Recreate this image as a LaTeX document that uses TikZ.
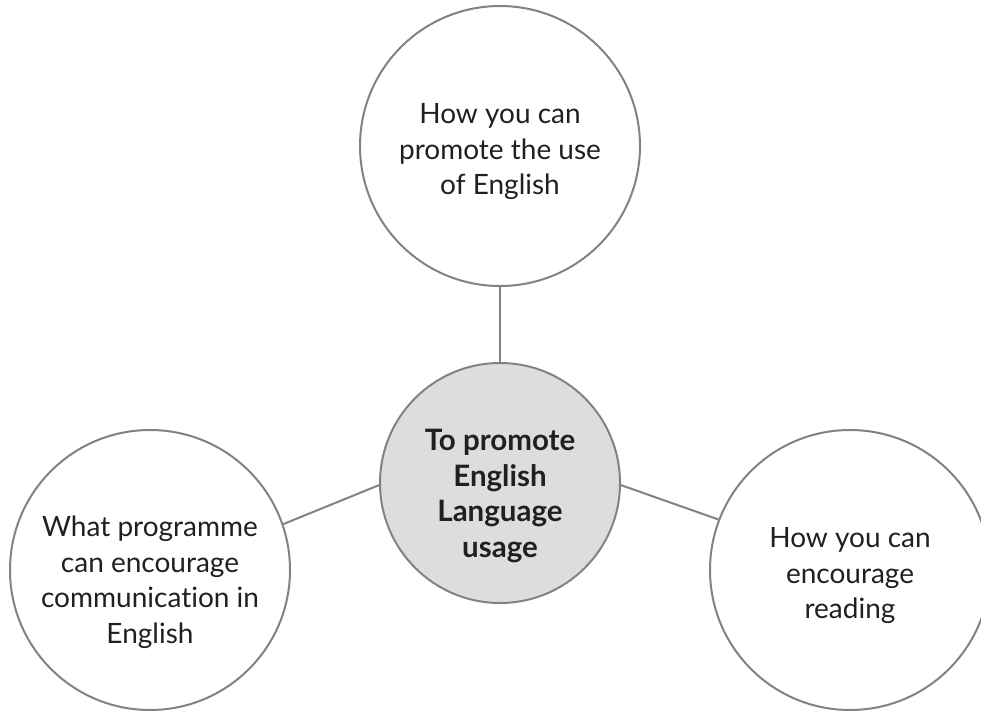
\documentclass[tikz,border=0pt]{standalone}
\usepackage{fontspec}
\setmainfont[Ligatures=NoCommon]{Lato}
\definecolor{edge}{HTML}{808285}
\definecolor{hubfill}{HTML}{DCDDDF}
\definecolor{ink}{HTML}{231F20}
\begin{document}
\begin{tikzpicture}[x=1pt,y=-1pt,
  bubble/.style={circle,draw=edge,line width=2pt,inner sep=0pt},
  hub/.style={bubble,fill=hubfill},
  txt/.style={align=center,text=ink,inner sep=0pt,font=\fontsize{28}{35.5}\selectfont},
  hubtxt/.style={txt,font=\fontsize{29.5}{35.5}\selectfont\bfseries},
  link/.style={draw=edge,line width=2pt}]
\useasboundingbox (0,0) rectangle (981,711);
\node[bubble,minimum size=280pt] (top) at (500,146) {};
\node[hub,minimum size=240pt] (hub) at (500,483) {};
\node[bubble,minimum size=280pt] (left) at (150,570) {};
\node[bubble,minimum size=280pt] (right) at (850,570) {};
\node[txt] (toptext) at (500,152) {How you can\\promote the use\\of English};
\node[hubtxt] (hubtext) at (500,496) {To promote\\English\\Language\\usage};
\node[txt] (lefttext) at (150,582) {What programme\\can encourage\\communication in\\English};
\node[txt] (righttext) at (850,576) {How you can\\encourage\\reading};
\path[link] (top) -- (hub);
\path[link] (left.19) -- (hub.181);
\path[link] (right.159) -- (hub.-1);
\end{tikzpicture}
\end{document}
